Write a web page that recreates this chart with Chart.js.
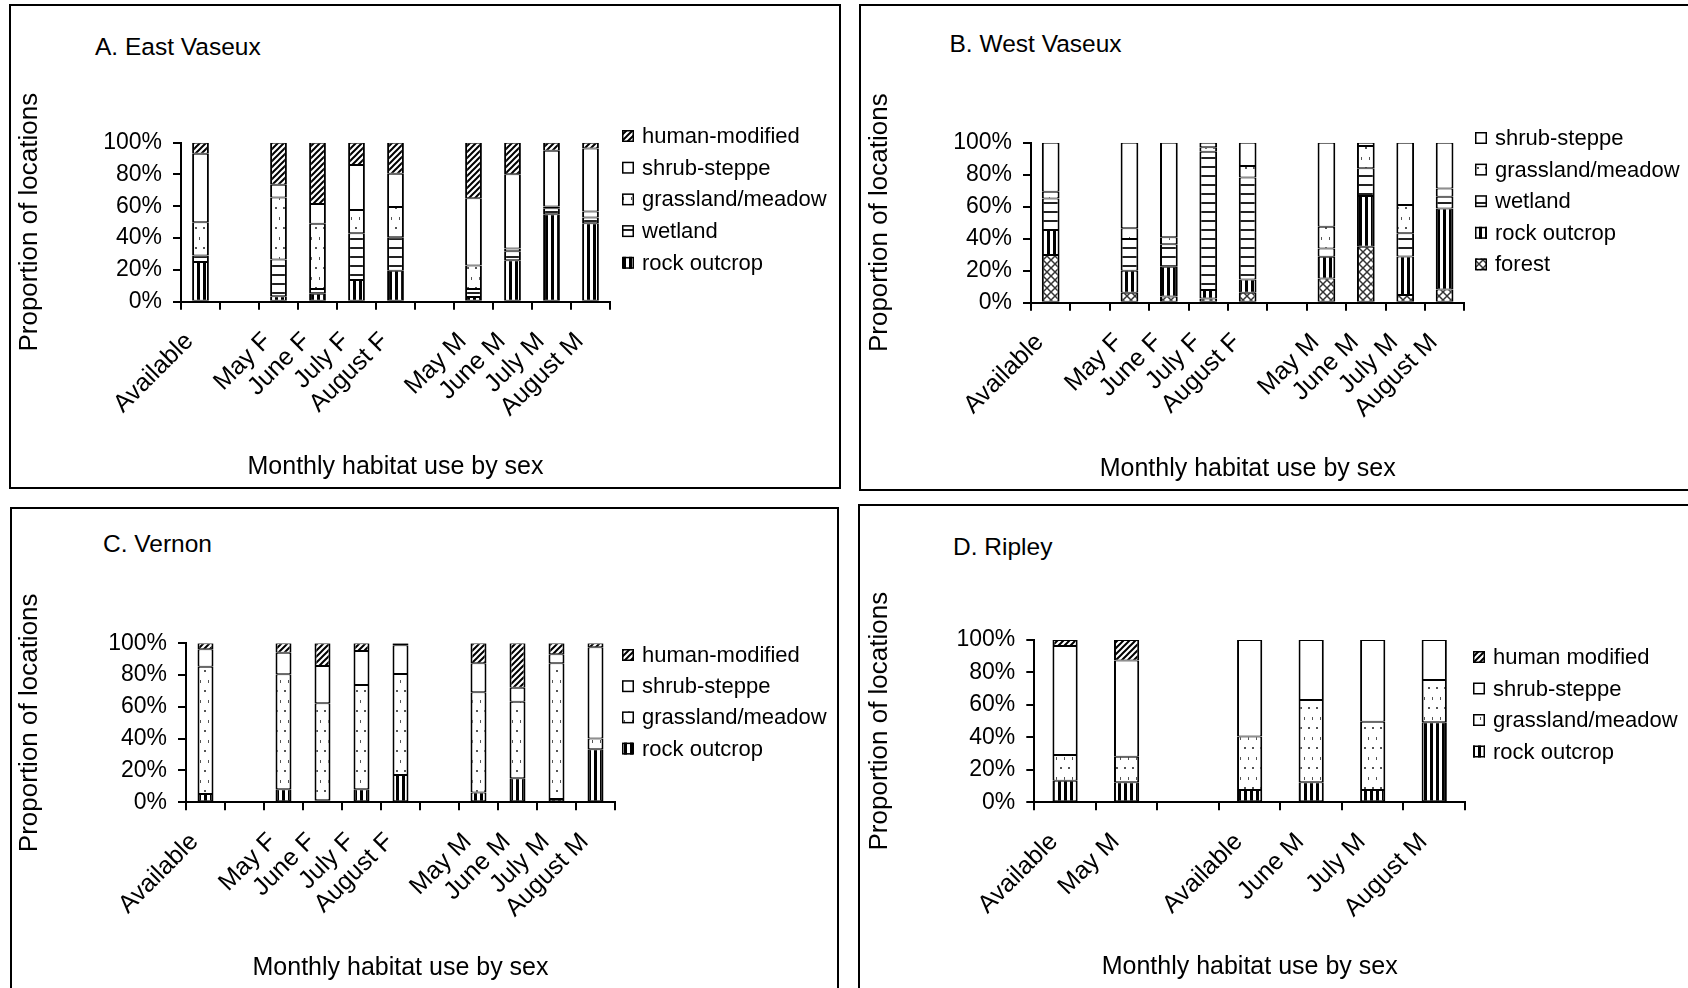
<!DOCTYPE html>
<html>
<head>
<meta charset="utf-8">
<script src="https://cdn.jsdelivr.net/npm/chart.js@4.4.1/dist/chart.umd.min.js"></script>
<style>
  body { margin: 0; width: 1688px; height: 988px; overflow: hidden; background: #fff; position: relative;
         font-family: 'Liberation Sans', Arial, sans-serif; }
  .panel { position: absolute; border: 2px solid #000; box-sizing: border-box; pointer-events: none; z-index: 2; }
  canvas { position: absolute; }
  .ptitle { position: absolute; font-size: 24.5px; line-height: 28px; color: #000; white-space: nowrap; }
</style>
</head>
<body>
<script>
// categories, blank slots split the groups like in the original figure
const catsBig = ['Available', '', 'May F', 'June F', 'July F', 'August F', '', 'May M', 'June M', 'July M', 'August M'];
const catsRipley = ['Available', 'May M', '', 'Available', 'June M', 'July M', 'August M'];
const yTickStep = 20;
const yMax = 100;

// A. East Vaseux (% of locations)
const eastRock      = [25,  null, 3.5, 5,    13.6, 19.5, null, 3,    26,   55,   49.3];
const eastWetland   = [4,   null, 23,  3,    29.4, 21,   null, 5,    5.7,  3.8,  3.6];
const eastGrass     = [21,  null, 39,  41,   14.7, 19,   null, 14.7, 1.7,  1,    3.8];
const eastShrub     = [43,  null, 8,   12.5, 28.3, 21,   null, 42.3, 46.8, 35.2, 39.7];
const eastHuman     = [7,   null, 26.5,38.5, 14,   19.5, null, 35,   19.8, 5,    3.6];

// B. West Vaseux
const westForest    = [29.8, null, 6.2,  3.8,  2.7,  6.2,  null, 15.2, 35,   4.8,  8.3];
const westRock      = [15.6, null, 13.8, 18.7, 5.2,  8.3,  null, 13.5, 31.7, 24,   50.6];
const westWetland   = [19.8, null, 19.8, 14,   86.5, 63.8, null, 5.2,  17.3, 14.6, 7.3];
const westGrass     = [4.2,  null, 6.7,  4.4,  2.7,  7.1,  null, 13.5, 14,   17.6, 5.2];
const westShrub     = [30.6, null, 53.5, 59.1, 2.9,  14.6, null, 52.6, 2,    39,   28.6];

// C. Vernon
const vernonRock    = [5.2,  null, 8.2,  1.3,  8.2,  17.2, null, 6.1,  15.1, 2.1,  33.3];
const vernonGrass   = [80,   null, 72.3, 61,   65.6, 63.5, null, 63.1, 48.2, 85.3, 6.9];
const vernonShrub   = [11,   null, 13.6, 23.4, 21.4, 18,   null, 18.2, 8.8,  5.7,  57.3];
const vernonHuman   = [3.8,  null, 5.9,  14.3, 4.8,  1.3,  null, 12.6, 27.9, 6.9,  2.5];

// D. Ripley
const ripleyRock    = [13.3, 12.3, null, 7.6,  12.3, 7.6,  49.3];
const ripleyGrass   = [15.8, 15.8, null, 32.9, 50.7, 42.1, 26.1];
const ripleyShrub   = [67.2, 59.2, null, 59.5, 37,   50.3, 24.6];
const ripleyHuman   = [3.7,  12.7, null, 0,    0,    0,    0];

const FONT = "'Liberation Sans', Arial, sans-serif";
Chart.defaults.font.family = FONT;
Chart.defaults.color = '#000';

// fill patterns (black & white hatching like the print figure)
function makePattern(w, h, draw) {
  const c = document.createElement('canvas');
  c.width = w; c.height = h;
  const g = c.getContext('2d');
  g.fillStyle = '#fff';
  g.fillRect(0, 0, w, h);
  draw(g);
  return g.createPattern(c, 'repeat');
}
const fills = {
  rock: makePattern(6, 6, g => { g.fillStyle = '#000'; g.fillRect(2, 0, 3, 6); }),
  wetland: makePattern(8, 9, g => { g.fillStyle = '#222'; g.fillRect(0, 0, 8, 2); }),
  grass: makePattern(8, 20, g => {
    g.fillStyle = '#555';
    g.fillRect(2, 3, 2, 2);
    g.fillRect(6, 13, 1, 3);
  }),
  shrub: '#fff',
  human: makePattern(6, 6, g => {
    g.strokeStyle = '#000'; g.lineWidth = 2;
    g.beginPath();
    g.moveTo(-1, 7); g.lineTo(7, -1);
    g.moveTo(-1, 1); g.lineTo(1, -1);
    g.moveTo(5, 7); g.lineTo(7, 5);
    g.stroke();
  }),
  forest: makePattern(8, 8, g => {
    g.strokeStyle = '#333'; g.lineWidth = 1.5;
    g.beginPath();
    g.moveTo(0, 0); g.lineTo(8, 8);
    g.moveTo(0, 8); g.lineTo(8, 0);
    g.stroke();
  })
};

// legend drawn at the right, top item = top of the stack
const sideLegend = {
  id: 'sideLegend',
  afterDraw(chart, args, opts) {
    const ctx = chart.ctx;
    ctx.save();
    ctx.font = '22px ' + FONT;
    ctx.textBaseline = 'middle';
    const items = chart.data.datasets.slice().reverse();
    items.forEach((ds, i) => {
      const y = opts.y + i * opts.dy;
      ctx.fillStyle = ds.backgroundColor;
      ctx.fillRect(opts.x, y - 6, 12, 12);
      ctx.lineWidth = 1.5;
      ctx.strokeStyle = '#000';
      ctx.strokeRect(opts.x + 0.75, y - 5.25, 10.5, 10.5);
      ctx.fillStyle = '#000';
      ctx.fillText(opts.names[i], opts.x + 20, y + 1);
    });
    ctx.restore();
  }
};

function ds(label, data, fill, barPct) {
  return {
    label, data, backgroundColor: fill, borderColor: '#000',
    borderWidth: {left: 2, right: 2, top: 1, bottom: 1}, borderSkipped: false,
    barPercentage: barPct, categoryPercentage: 1
  };
}

const X_TITLE = 25;
const Y_TITLE = 26;

function buildPanel(p) {
  const box = document.createElement('div');
  box.className = 'panel';
  Object.assign(box.style, {left: p.border.x + 'px', top: p.border.y + 'px',
    width: p.border.w + 'px', height: p.border.h + 'px'});
  document.body.appendChild(box);

  const t = document.createElement('div');
  t.className = 'ptitle';
  t.textContent = p.title;
  t.style.left = p.titlePos.x + 'px';
  t.style.top = (p.titlePos.y - 14) + 'px';
  document.body.appendChild(t);

  const cv = document.createElement('canvas');
  const c = {x: p.border.x, y: p.border.y,
    w: Math.min(p.border.w, 1688 - p.border.x), h: Math.min(p.border.h, 988 - p.border.y)};
  cv.width = c.w; cv.height = c.h;
  cv.style.left = c.x + 'px'; cv.style.top = c.y + 'px';
  document.body.appendChild(cv);

  const padLeft = p.yTitleX - c.x - Y_TITLE * 0.6;
  const yW = p.plot.l - c.x - padLeft;
  const padTop = p.plot.t - c.y;
  const xBottom = p.xTitleY - c.y + X_TITLE * 0.6;
  const padBottom = c.h - xBottom;
  const xH = xBottom - (p.plot.b - c.y);
  const padRight = c.w - (p.plot.r - c.x);

  new Chart(cv, {
    type: 'bar',
    data: {labels: p.labels, datasets: p.datasets},
    plugins: [sideLegend],
    options: {
      responsive: false, animation: false, devicePixelRatio: 1,
      layout: {padding: {left: padLeft, right: padRight, top: padTop, bottom: padBottom}},
      plugins: {
        legend: {display: false}, title: {display: false}, tooltip: {enabled: false},
        sideLegend: {x: p.legend.x - c.x, y: p.legend.y - c.y, dy: p.legend.dy, names: p.legend.names}
      },
      scales: {
        x: {
          stacked: true,
          grid: {drawOnChartArea: false, color: '#000', lineWidth: 2, tickLength: 8, offset: true},
          border: {color: '#000', width: 2},
          ticks: {color: '#000', font: {size: 25}, minRotation: 45, maxRotation: 45, autoSkip: false,
                  padding: 17, labelOffset: -11},
          title: {display: true, text: 'Monthly habitat use by sex', color: '#000', font: {size: X_TITLE}, padding: 0},
          afterFit(s) { s.height = xH; }
        },
        y: {
          stacked: true, min: 0, max: yMax,
          grid: {drawOnChartArea: false, color: '#000', lineWidth: 2, tickLength: 8},
          border: {color: '#000', width: 2},
          ticks: {stepSize: yTickStep, color: '#000', font: {size: 23}, padding: 11, callback: v => v + '%'},
          title: {display: true, text: 'Proportion of locations', color: '#000', font: {size: Y_TITLE}, padding: 0},
          afterFit(s) { s.width = yW; }
        }
      }
    }
  });
}

buildPanel({
  title: 'A. East Vaseux', titlePos: {x: 95, y: 46.5},
  border: {x: 9, y: 4, w: 832, h: 485},
  plot: {l: 181, r: 610, t: 142.7, b: 301.7},
  yTitleX: 30, xTitleY: 467,
  labels: catsBig,
  legend: {x: 622, y: 136, dy: 31.7, names: ['human-modified', 'shrub-steppe', 'grassland/meadow', 'wetland', 'rock outcrop']},
  datasets: [
    ds('rock outcrop', eastRock, fills.rock, 0.43),
    ds('wetland', eastWetland, fills.wetland, 0.43),
    ds('grassland/meadow', eastGrass, fills.grass, 0.43),
    ds('shrub-steppe', eastShrub, fills.shrub, 0.43),
    ds('human-modified', eastHuman, fills.human, 0.43)
  ]
});

buildPanel({
  title: 'B. West Vaseux', titlePos: {x: 949.5, y: 44},
  border: {x: 859, y: 4, w: 900, h: 487},
  plot: {l: 1031, r: 1464.3, t: 142.7, b: 302.7},
  yTitleX: 879.5, xTitleY: 469,
  labels: catsBig,
  legend: {x: 1475, y: 138, dy: 31.6, names: ['shrub-steppe', 'grassland/meadow', 'wetland', 'rock outcrop', 'forest']},
  datasets: [
    ds('forest', westForest, fills.forest, 0.45),
    ds('rock outcrop', westRock, fills.rock, 0.45),
    ds('wetland', westWetland, fills.wetland, 0.45),
    ds('grassland/meadow', westGrass, fills.grass, 0.45),
    ds('shrub-steppe', westShrub, fills.shrub, 0.45)
  ]
});

buildPanel({
  title: 'C. Vernon', titlePos: {x: 103, y: 543.6},
  border: {x: 10, y: 507, w: 829, h: 600},
  plot: {l: 186, r: 615, t: 643.3, b: 802.3},
  yTitleX: 30, xTitleY: 968,
  labels: catsBig,
  legend: {x: 622, y: 655, dy: 31.2, names: ['human-modified', 'shrub-steppe', 'grassland/meadow', 'rock outcrop']},
  datasets: [
    ds('rock outcrop', vernonRock, fills.rock, 0.41),
    ds('grassland/meadow', vernonGrass, fills.grass, 0.41),
    ds('shrub-steppe', vernonShrub, fills.shrub, 0.41),
    ds('human-modified', vernonHuman, fills.human, 0.41)
  ]
});

buildPanel({
  title: 'D. Ripley', titlePos: {x: 953, y: 546.5},
  border: {x: 858, y: 504, w: 900, h: 600},
  plot: {l: 1034.3, r: 1465, t: 640, b: 802.3},
  yTitleX: 879.5, xTitleY: 967,
  labels: catsRipley,
  legend: {x: 1473, y: 657, dy: 31.5, names: ['human modified', 'shrub-steppe', 'grassland/meadow', 'rock outcrop']},
  datasets: [
    ds('rock outcrop', ripleyRock, fills.rock, 0.41),
    ds('grassland/meadow', ripleyGrass, fills.grass, 0.41),
    ds('shrub-steppe', ripleyShrub, fills.shrub, 0.41),
    ds('human modified', ripleyHuman, fills.human, 0.41)
  ]
});
</script>
</body>
</html>
